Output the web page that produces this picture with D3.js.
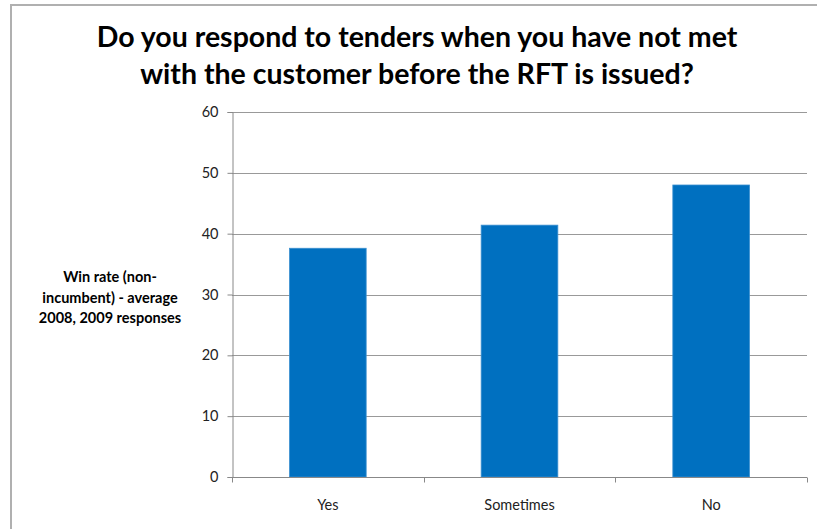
<!DOCTYPE html>
<html>
<head>
<meta charset="utf-8">
<script src="https://cdn.jsdelivr.net/npm/d3@7"></script>
<style>
  html, body { margin: 0; padding: 0; background: #fff; }
  svg { display: block; }
  text { font-family: Lato, "Open Sans", sans-serif; }
</style>
</head>
<body>
<svg id="chart" width="817" height="529"></svg>
<script>
// Win rate by whether the customer was met before the RFT was issued
const categories = ["Yes", "Sometimes", "No"];
const winRates = [37.6, 41.4, 48.0];
const yTicks = [0, 10, 20, 30, 40, 50, 60];
const titleLines = [
  "Do you respond to tenders when you have not met",
  "with the customer before the RFT is issued?"
];
const yLabelLines = [
  "Win rate (non-",
  "incumbent) - average",
  "2008, 2009 responses"
];

const svg = d3.select("#chart");
const W = 817, H = 529;
const plot = { left: 232, right: 807, top: 112, bottom: 477 };

// chart frame
svg.append("path")
  .attr("d", `M11,${H} L11,5 L${W},5`)
  .attr("fill", "none")
  .attr("stroke", "#b0b0b0")
  .attr("stroke-width", 2);

// title
const title = svg.append("text")
  .attr("text-anchor", "middle")
  .attr("font-weight", "bold")
  .attr("font-size", 28.5)
  .attr("fill", "#000");
title.selectAll("tspan")
  .data(titleLines)
  .join("tspan")
  .attr("x", 417)
  .attr("y", (d, i) => 47 + i * 37)
  .text(d => d);

const x = d3.scaleBand()
  .domain(categories)
  .range([plot.left, plot.right])
  .paddingInner(0.6)
  .paddingOuter(0.3);

const y = d3.scaleLinear()
  .domain([0, 60])
  .range([plot.bottom, plot.top]);

// horizontal gridlines
svg.append("g")
  .selectAll("line")
  .data(yTicks.filter(t => t > 0))
  .join("line")
  .attr("x1", plot.left)
  .attr("x2", plot.right)
  .attr("y1", d => Math.round(y(d)) + 0.5)
  .attr("y2", d => Math.round(y(d)) + 0.5)
  .attr("stroke", "#999")
  .attr("stroke-width", 1.2);

// bars
svg.append("g")
  .selectAll("rect")
  .data(categories.map((c, i) => ({ c, v: winRates[i] })))
  .join("rect")
  .attr("x", d => x(d.c))
  .attr("width", x.bandwidth())
  .attr("y", d => y(d.v))
  .attr("height", d => y(0) - y(d.v))
  .attr("fill", "#0070c0")
  .attr("stroke", "#3a8fd0")
  .attr("stroke-width", 0.8);

// y axis
const yAxis = svg.append("g")
  .attr("transform", `translate(${plot.left + 0.5},0)`)
  .call(d3.axisLeft(y).tickValues(yTicks).tickSize(5).tickPadding(9));
yAxis.select(".domain").attr("stroke", "#888");
yAxis.selectAll(".tick line").attr("stroke", "#888");
yAxis.selectAll(".tick text")
  .attr("font-size", 14.5)
  .attr("font-family", "Lato, sans-serif")
  .attr("fill", "#222");

// x axis with tick marks between categories
const xAxisG = svg.append("g")
  .attr("transform", `translate(0,${plot.bottom + 0.5})`);
xAxisG.append("line")
  .attr("x1", plot.left).attr("x2", plot.right)
  .attr("stroke", "#888");
const boundaries = d3.range(categories.length + 1).map(i => plot.left + i * (plot.right - plot.left) / categories.length);
xAxisG.selectAll("line.tk")
  .data(boundaries)
  .join("line")
  .attr("class", "tk")
  .attr("x1", d => Math.round(d) + 0.5)
  .attr("x2", d => Math.round(d) + 0.5)
  .attr("y1", 0).attr("y2", 5)
  .attr("stroke", "#888");
xAxisG.selectAll("text")
  .data(categories)
  .join("text")
  .attr("x", d => x(d) + x.bandwidth() / 2)
  .attr("y", 32)
  .attr("text-anchor", "middle")
  .attr("font-size", 14.5)
  .attr("fill", "#222")
  .text(d => d);

// y axis title
const yTitle = svg.append("text")
  .attr("text-anchor", "middle")
  .attr("font-weight", "bold")
  .attr("font-size", 14.5)
  .attr("fill", "#000");
yTitle.selectAll("tspan")
  .data(yLabelLines)
  .join("tspan")
  .attr("x", 110)
  .attr("y", (d, i) => 282 + i * 20.5)
  .text(d => d);
</script>
</body>
</html>
